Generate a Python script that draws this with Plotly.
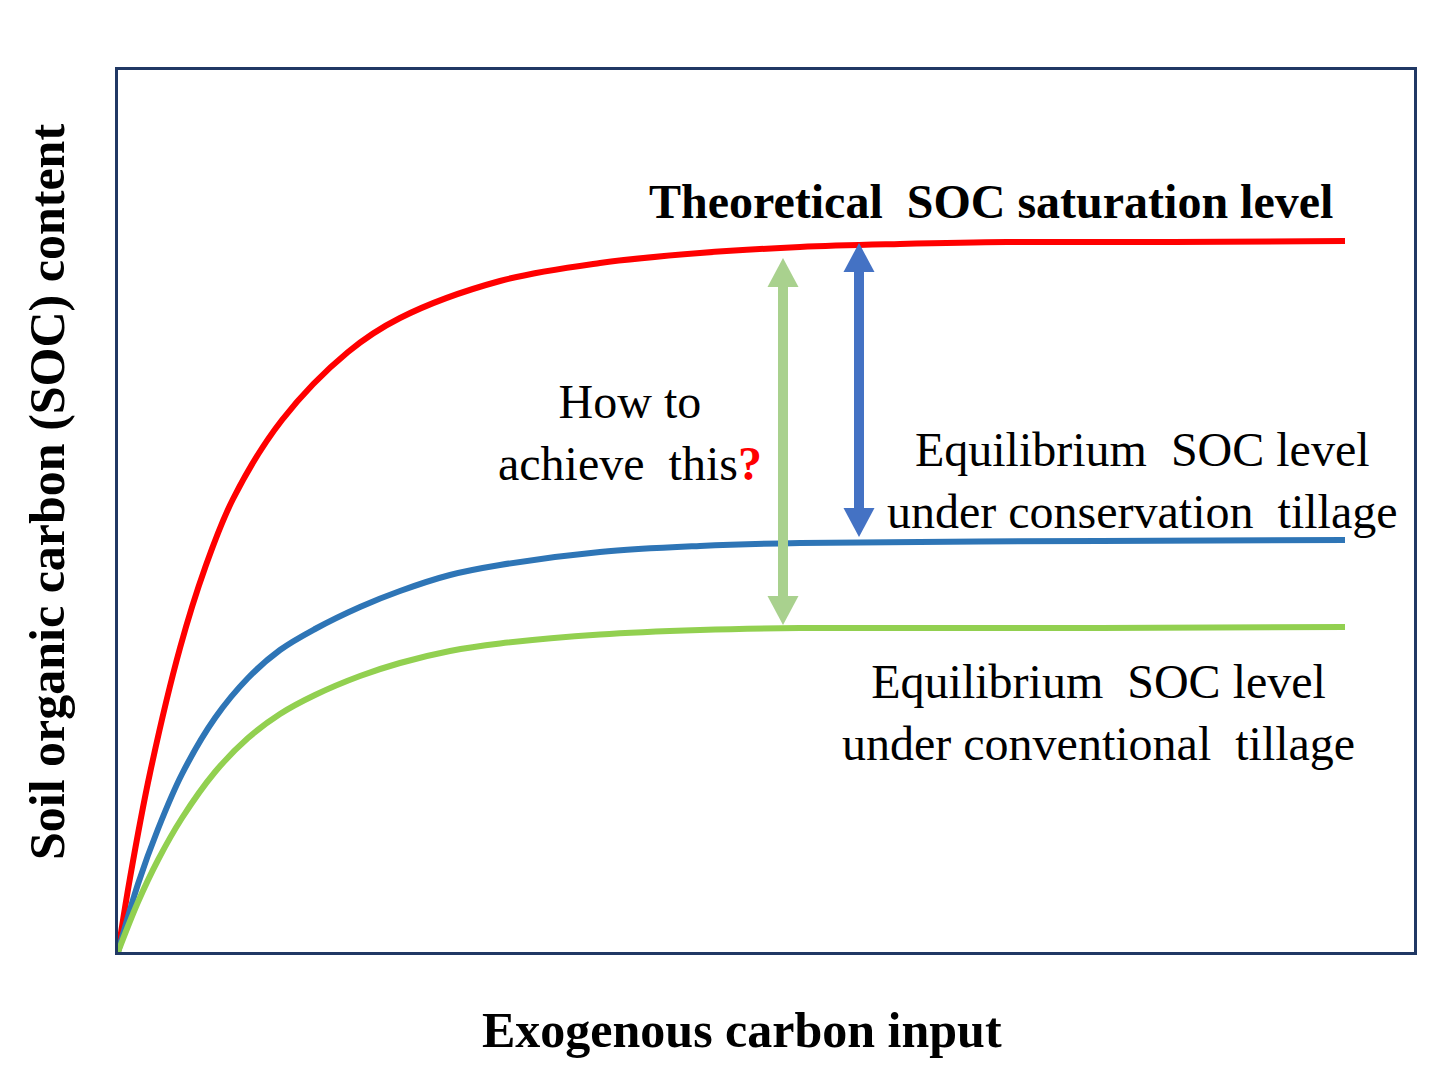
import plotly.graph_objects as go

# ---- data (arbitrary units) ----
red_x = [0, 1.2, 3.2, 6.2, 8.7, 11.5, 16.4, 23.0, 28.2, 38.2, 48.2, 58.2, 68.2, 78.2, 88.9, 105.5, 122.7]
red_y = [0, 7.4, 17.9, 30.4, 38.4, 45.3, 53.2, 60.0, 63.4, 67.1, 68.9, 69.9, 70.5, 70.8, 71.0, 71.0, 71.1]

blue_x = [0, 2.0, 4.0, 6.4, 9.7, 13.0, 16.2, 19.7, 24.2, 28.2, 33.2, 38.2, 48.2, 58.2, 68.2, 98.2, 122.7]
blue_y = [0, 6.8, 12.3, 17.8, 23.4, 27.4, 30.2, 32.3, 34.5, 36.1, 37.7, 38.7, 40.0, 40.6, 40.9, 41.1, 41.2]

green_x = [0, 2.0, 4.0, 6.4, 9.7, 13.0, 16.2, 19.7, 24.2, 28.2, 33.2, 38.2, 48.2, 58.2, 68.2, 98.2, 122.7]
green_y = [0, 5.0, 9.2, 13.4, 18.0, 21.4, 23.8, 25.7, 27.6, 28.9, 30.1, 30.85, 31.75, 32.2, 32.4, 32.4, 32.5]

# double-headed arrows: x position, lower tip, upper tip
arrow_green = (66.5, 32.7, 69.4)
arrow_blue = (74.1, 41.5, 70.9)

labels = {
    "title": "<b>Theoretical  SOC saturation level</b>",
    "question": "How to<br>achieve  this<span style='color:#ff0000'><b>?</b></span>",
    "conservation": "Equilibrium  SOC level<br>under conservation  tillage",
    "conventional": "Equilibrium  SOC level<br>under conventional  tillage",
    "xtitle": "<b>Exogenous carbon input</b>",
    "ytitle": "<b>Soil organic carbon (SOC) content</b>",
}

FONT = "Liberation Serif, Times New Roman, serif"
FS = 48
FS_AXIS = 50

fig = go.Figure()
for xs, ys, col in [(red_x, red_y, "#ff0000"), (blue_x, blue_y, "#2e75b6"), (green_x, green_y, "#92d050")]:
    fig.add_trace(go.Scatter(x=xs, y=ys, mode="lines", cliponaxis=False,
                             line=dict(color=col, width=6, shape="spline", smoothing=1.0),
                             hoverinfo="skip", showlegend=False))

shapes = []
HEAD_L = 2.9   # y units
HEAD_HW = 1.55  # x units
for (ax, y0, y1), col in [(arrow_green, "#a9d18e"), (arrow_blue, "#4472c4")]:
    shapes.append(dict(type="line", x0=ax, x1=ax, y0=y0 + HEAD_L * 0.9, y1=y1 - HEAD_L * 0.9,
                       xref="x", yref="y", line=dict(color=col, width=10)))
    shapes.append(dict(type="path", xref="x", yref="y", fillcolor=col, line=dict(width=0),
                       path=f"M {ax},{y1} L {ax-HEAD_HW},{y1-HEAD_L} L {ax+HEAD_HW},{y1-HEAD_L} Z"))
    shapes.append(dict(type="path", xref="x", yref="y", fillcolor=col, line=dict(width=0),
                       path=f"M {ax},{y0} L {ax-HEAD_HW},{y0+HEAD_L} L {ax+HEAD_HW},{y0+HEAD_L} Z"))

ann_font = dict(family=FONT, size=FS, color="#000000")
axis_font = dict(family=FONT, size=FS_AXIS, color="#000000")
annotations = [
    dict(x=87.3, y=75.1, text=labels["title"], xref="x", yref="y", font=ann_font),
    dict(x=51.2, y=52.0, text=labels["question"], xref="x", yref="y", font=ann_font),
    dict(x=102.4, y=47.2, text=labels["conservation"], xref="x", yref="y", font=ann_font),
    dict(x=98.0, y=24.0, text=labels["conventional"], xref="x", yref="y", font=ann_font),
    dict(x=0.4815, y=-0.0884, text=labels["xtitle"], xref="paper", yref="paper", font=axis_font),
    dict(x=-0.0548, y=0.5215, text=labels["ytitle"], xref="paper", yref="paper", textangle=-90,
         font=axis_font),
]
for a in annotations:
    a.update(showarrow=False, xanchor="center", yanchor="middle", align="center")

fig.update_layout(
    width=1446, height=1092,
    margin=dict(l=118, r=32, t=70, b=140, pad=0),
    paper_bgcolor="white", plot_bgcolor="white",
    shapes=shapes, annotations=annotations,
    xaxis=dict(range=[0, 129.6], showgrid=False, zeroline=False, showticklabels=False, ticks="",
               showline=True, mirror=True, linecolor="#203864", linewidth=3),
    yaxis=dict(range=[0, 88.2], showgrid=False, zeroline=False, showticklabels=False, ticks="",
               showline=True, mirror=True, linecolor="#203864", linewidth=3),
)

fig.write_html("out.html")
